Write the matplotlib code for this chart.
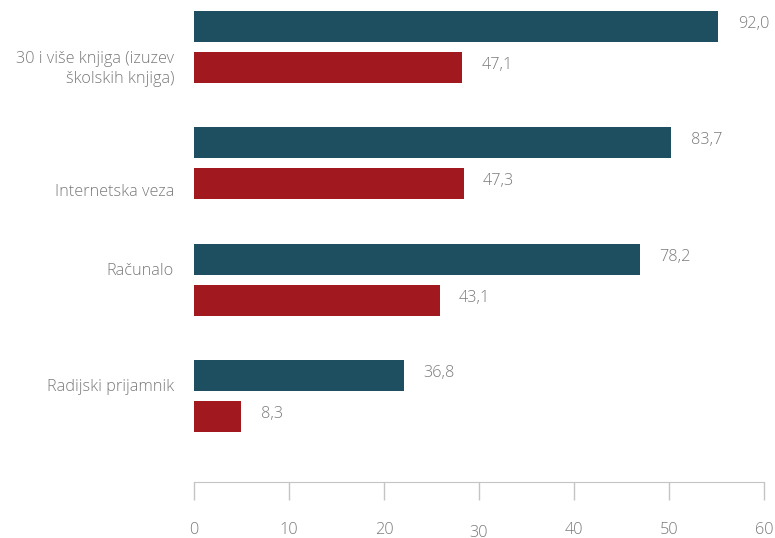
import numpy as np
from matplotlib import pyplot as plt
from matplotlib import transforms

# data
categories = ['30 i više knjiga (izuzev\nškolskih knjiga)', 'Internetska veza',
              'Računalo', 'Radijski prijamnik']
blue_values = [92.0, 83.7, 78.2, 36.8]
red_values = [47.1, 47.3, 43.1, 8.3]
tick_values = np.linspace(0, 100, 7)
tick_labels = ['0', '10', '20', '30', '40', '50', '60']

BLUE = '#1e4f61'
RED = '#a1181e'
GREY = '#7a7a7a'
LINE = '#c4c4c4'
FS = 11.7

plt.rcParams['font.family'] = ['Open Sans', 'DejaVu Sans']
plt.rcParams['font.weight'] = 'light'

fig = plt.figure(figsize=(7.75, 5.38), dpi=100)
ax = fig.add_axes([0.2503, 0.1041, 0.7355, 0.8959])

pos = np.arange(len(categories))
h = 0.266
off = 0.176
ax.barh(pos - off, blue_values, height=h, color=BLUE)
ax.barh(pos + off, red_values, height=h, color=RED)

for y, v in zip(pos - off, blue_values):
    ax.annotate(f'{v:.1f}'.replace('.', ','), (v, y), xytext=(14, 1.5),
                textcoords='offset points', va='center', ha='left',
                color=GREY, fontsize=FS)
for y, v in zip(pos + off, red_values):
    ax.annotate(f'{v:.1f}'.replace('.', ','), (v, y), xytext=(14, 1.5),
                textcoords='offset points', va='center', ha='left',
                color=GREY, fontsize=FS)

# category labels sit a little off the group centre
label_shift = [0.19, 0.25, -0.07, -0.08]
trans = transforms.blended_transform_factory(ax.transAxes, ax.transData)
for y, lab, s in zip(pos, categories, label_shift):
    ax.text(-0.035, y + s, lab, transform=trans, ha='right', va='center',
            color=GREY, fontsize=FS, linespacing=1.3)

ax.set_xlim(0, 100)
ax.set_ylim(3.738, -0.40)
ax.set_yticks([])
ax.set_xticks(tick_values)
ax.set_xticklabels(tick_labels)
ax.tick_params(axis='x', direction='out', length=13, width=1, color=LINE,
               pad=15.5, labelcolor=GREY, labelsize=FS)
# the "30" label is printed a bit lower in the original
lbl = ax.get_xticklabels()[3]
lbl.set_transform(lbl.get_transform() +
                  transforms.ScaledTranslation(0, -3 / 100, fig.dpi_scale_trans))

for side in ['top', 'right', 'left']:
    ax.spines[side].set_visible(False)
ax.spines['bottom'].set_color(LINE)

fig.savefig('out.png', dpi=100)
